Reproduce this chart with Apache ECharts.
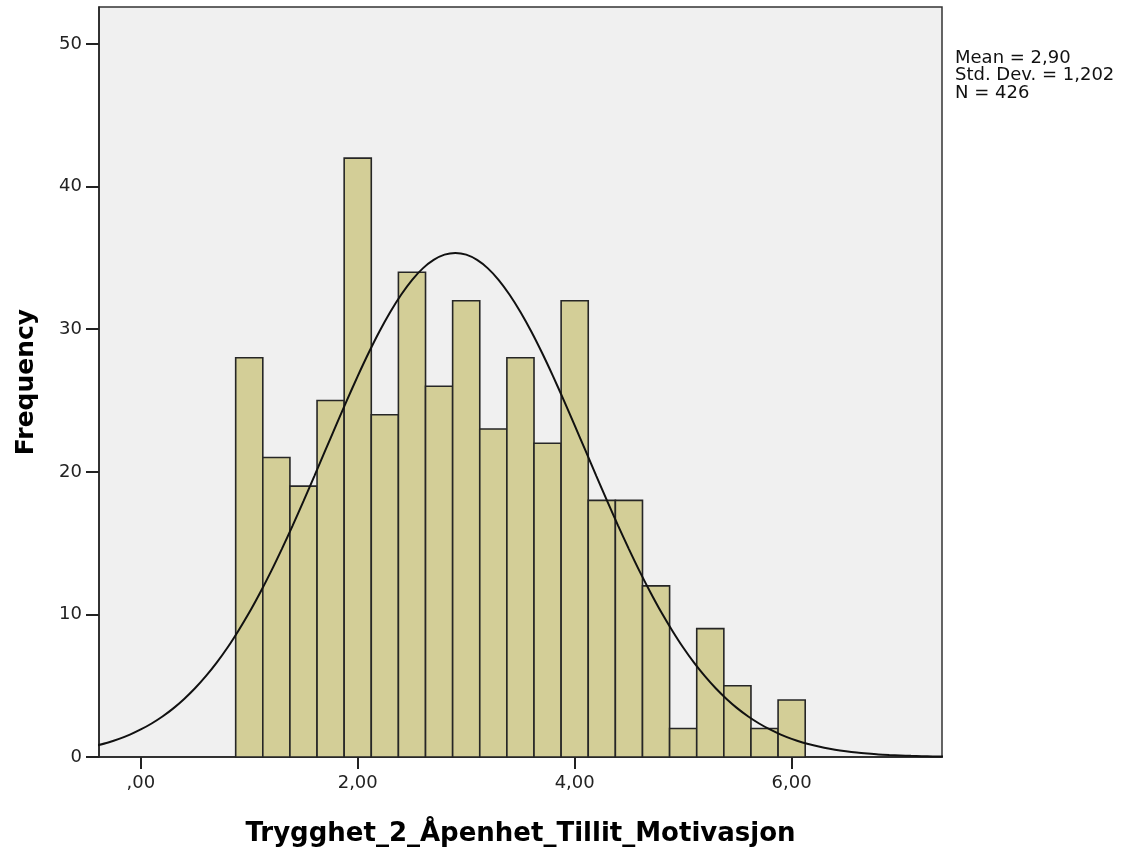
<!DOCTYPE html>
<html><head><meta charset="utf-8">
<script src="https://cdn.jsdelivr.net/npm/echarts@6/dist/echarts.min.js"></script>
<style>html,body{margin:0;padding:0;background:#fff}#c{width:1135px;height:854px}</style>
</head><body><div id="c"></div>
<script>
// Histogram bins (left edges) and counts
const binStart = [0.875,1.125,1.375,1.625,1.875,2.125,2.375,2.625,2.875,3.125,3.375,3.625,3.875,4.125,4.375,4.625,4.875,5.125,5.375,5.625,5.875];
const binWidth = 0.25;
const counts = [28,21,19,25,42,24,34,26,32,23,28,22,32,18,18,12,2,9,5,2,4];
// Normal curve
const curveX = [-0.4,-0.3,-0.2,-0.1,0.0,0.1,0.2,0.3,0.4,0.5,0.6,0.7,0.8,0.9,1.0,1.1,1.2,1.3,1.4,1.5,1.6,1.7,1.8,1.9,2.0,2.1,2.2,2.3,2.4,2.5,2.6,2.7,2.8,2.9,3.0,3.1,3.2,3.3,3.4,3.5,3.6,3.7,3.8,3.9,4.0,4.1,4.2,4.3,4.4,4.5,4.6,4.7,4.8,4.9,5.0,5.1,5.2,5.3,5.4,5.5,5.6,5.7,5.8,5.9,6.0,6.1,6.2,6.3,6.4,6.5,6.6,6.7,6.8,6.9,7.0,7.1,7.2,7.3,7.4];
const curveY = [0.82,1.02,1.27,1.57,1.93,2.35,2.84,3.41,4.07,4.82,5.67,6.62,7.68,8.86,10.13,11.52,13.00,14.58,16.23,17.94,19.70,21.48,23.26,25.01,26.71,28.33,29.84,31.21,32.42,33.45,34.27,34.86,35.23,35.35,35.23,34.86,34.27,33.45,32.42,31.21,29.84,28.33,26.71,25.01,23.26,21.48,19.70,17.94,16.23,14.58,13.00,11.52,10.13,8.86,7.68,6.62,5.67,4.82,4.07,3.41,2.84,2.35,1.93,1.57,1.27,1.02,0.82,0.65,0.51,0.40,0.31,0.24,0.18,0.14,0.11,0.08,0.06,0.04,0.03];
const xTicks = [0,2,4,6];
const yTicks = [0,10,20,30,40,50];
const statsLines = ['Mean = 2,90','Std. Dev. = 1,202','N = 426'];
const xTitle = 'Trygghet_2_Åpenhet_Tillit_Motivasjon';
const yTitle = 'Frequency';

const chart = echarts.init(document.getElementById('c'), null, {renderer:'canvas'});
const FONT = 'DejaVu Sans';
const fmtX = v => v === 0 ? ',00' : v.toFixed(2).replace('.', ',');

const barData = binStart.map((s,i) => [s, s + binWidth, counts[i]]);
const lineData = curveX.map((x,i) => [x, curveY[i]]);

chart.setOption({
  animation: false,
  backgroundColor: '#ffffff',
  grid: {left: 99, right: 193, top: 7, bottom: 97, containLabel: false, outerBoundsMode: 'none',
         show: true, backgroundColor: '#f0f0f0', borderColor: '#333', borderWidth: 1.5},
  xAxis: {
    type: 'value', min: -0.385, max: 7.386,
    name: xTitle, nameLocation: 'middle', nameGap: 64,
    nameTextStyle: {fontFamily: FONT, fontWeight: 'bold', fontSize: 26, color: '#000'},
    axisLine: {show: true, onZero: false, lineStyle: {color: '#222', width: 1.5}},
    axisTick: {show: true, length: 12, lineStyle: {color: '#222', width: 2}, customValues: xTicks},
    axisLabel: {customValues: xTicks, formatter: fmtX, fontFamily: FONT, fontSize: 18, color: '#222', margin: 17},
    splitLine: {show: false}
  },
  yAxis: {
    type: 'value', min: 0, max: 52.6,
    name: yTitle, nameLocation: 'middle', nameGap: 60, nameRotate: 90,
    nameTextStyle: {fontFamily: FONT, fontWeight: 'bold', fontSize: 25, color: '#000'},
    axisLine: {show: true, onZero: false, lineStyle: {color: '#222', width: 1.5}},
    axisTick: {show: true, length: 13, lineStyle: {color: '#222', width: 2}, customValues: yTicks},
    axisLabel: {customValues: yTicks, fontFamily: FONT, fontSize: 18, color: '#222', margin: 17},
    splitLine: {show: false}
  },
  series: [
    {
      type: 'custom',
      data: barData,
      encode: {x: [0,1], y: 2},
      renderItem: function (params, api) {
        const p0 = api.coord([api.value(0), 0]);
        const p1 = api.coord([api.value(1), api.value(2)]);
        return {
          type: 'rect',
          shape: {x: p0[0], y: p1[1], width: p1[0] - p0[0], height: p0[1] - p1[1]},
          style: {fill: '#d3ce97', stroke: '#262626', lineWidth: 1.6}
        };
      },
      z: 2
    },
    {
      type: 'line', data: lineData, smooth: 0.3, showSymbol: false, symbol: 'none', clip: true,
      lineStyle: {color: '#111', width: 2}, z: 3
    }
  ],
  graphic: [{
    type: 'text', left: 955, top: 49,
    style: {text: statsLines.join('\n'), fontFamily: FONT, fontSize: 18, lineHeight: 17.5, fill: '#111'}
  }]
});
</script></body></html>
